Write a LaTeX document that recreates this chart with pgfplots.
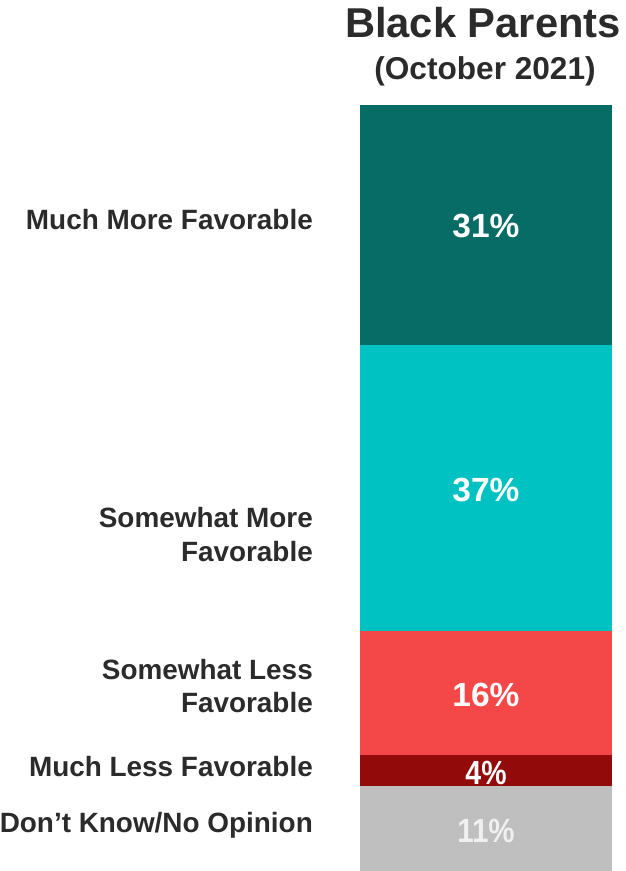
\documentclass[border=0pt]{standalone}
\usepackage{pgfplots}
\pgfplotsset{compat=1.18}
\usepackage{fontspec}
\setmainfont{Liberation Sans}
\definecolor{cA}{HTML}{076B66}
\definecolor{cB}{HTML}{00C2C2}
\definecolor{cC}{HTML}{F44848}
\definecolor{cD}{HTML}{920A0A}
\definecolor{cE}{HTML}{BFBFBF}
\definecolor{txt}{HTML}{2B2B2B}
\begin{document}
\begin{tikzpicture}
\path[use as bounding box] (0,0) rectangle (626bp,871bp);
\begin{axis}[at={(360bp,0bp)}, anchor=south west, scale only axis,
  width=252bp, height=766bp, xmin=-0.5, xmax=0.5, ymin=0, ymax=99,
  axis lines=none, ybar stacked, bar width=252bp, clip=false]
\addplot[fill=cE, draw=none] coordinates {(0,11)};
\addplot[fill=cD, draw=none] coordinates {(0,4)};
\addplot[fill=cC, draw=none] coordinates {(0,16)};
\addplot[fill=cB, draw=none] coordinates {(0,37)};
\addplot[fill=cA, draw=none] coordinates {(0,31)};
\end{axis}
% titles
\node[anchor=base, text=txt, font=\bfseries\fontsize{41.7bp}{49bp}\selectfont, inner sep=0pt] at (483bp,833bp) {Black Parents};
\node[anchor=base, text=txt, font=\bfseries\fontsize{31.6bp}{37bp}\selectfont, inner sep=0pt] at (485bp,791bp) {(October 2021)};
% category labels
\begin{scope}[every node/.style={anchor=base east, text=txt, inner sep=0pt, font=\bfseries\fontsize{27.9bp}{33bp}\selectfont}]
\node at (313bp,641bp) {Much More Favorable};
\node at (313bp,343bp) {Somewhat More};
\node at (313bp,309bp) {Favorable};
\node at (313bp,191bp) {Somewhat Less};
\node at (313bp,158bp) {Favorable};
\node at (313bp,94bp) {Much Less Favorable};
\node at (313bp,39bp) {Don’t Know/No Opinion};
\end{scope}
% value labels
\begin{scope}[every node/.style={anchor=base, text=white, inner sep=0pt, font=\bfseries\fontsize{33.5bp}{40bp}\selectfont}]
\node at (486bp,633bp) {31\%};
\node at (486bp,369bp) {37\%};
\node at (486bp,164bp) {16\%};
\node at (486bp,86bp) {\scalebox{0.85}[1]{4\%}};
\node[text=white!94!black] at (486bp,29bp) {\scalebox{0.88}[1]{11\%}};
\end{scope}
\end{tikzpicture}
\end{document}
